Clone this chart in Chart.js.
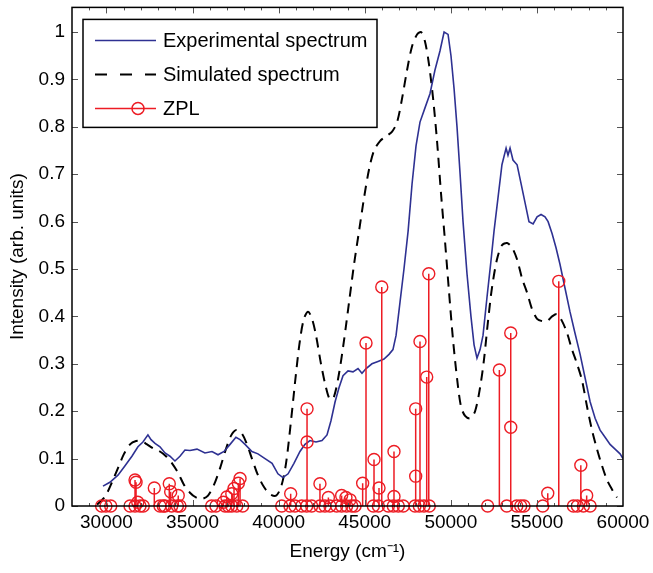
<!DOCTYPE html>
<html>
<head>
<meta charset="utf-8">
<script src="https://cdn.jsdelivr.net/npm/chart.js@4.4.1/dist/chart.umd.min.js"></script>
<style>
  html, body { margin: 0; padding: 0; background: #fff; }
  #wrap { width: 653px; height: 573px; }
</style>
</head>
<body>
<div id="wrap"><canvas id="spectrum"></canvas></div>
<script>
// experimental spectrum
const expEnergy = [29800, 30200, 30670, 31080, 31480, 31830, 32120, 32410, 32590, 32820, 33110, 33400, 33690, 33980,
    34270, 34560, 34850, 35260, 35720, 36130, 36480, 36830, 37180, 37520, 37760, 38050, 38450, 38800, 39210, 39620,
    39960, 40250, 40550, 40890, 41240, 41530, 41820, 42170, 42520, 42810, 43040, 43280, 43510, 43740, 44030, 44320,
    44610, 44840, 45080, 45420, 45770, 46120, 46410, 46640, 46820, 47050, 47280, 47520, 47750, 47980, 48210, 48500,
    48790, 49080, 49370, 49610, 49840, 50010, 50190, 50360, 50540, 50710, 50940, 51170, 51350, 51520, 51700, 51870,
    52100, 52340, 52510, 52740, 52970, 53210, 53320, 53440, 53610, 53850, 54080, 54310, 54540, 54780, 55010, 55240,
    55470, 55650, 55880, 56110, 56340, 56630, 56920, 57210, 57510, 57800, 58090, 58380, 58670, 58960, 59250, 59540,
    59830, 60000];
const expIntensity = [0.042, 0.05, 0.065, 0.085, 0.105, 0.125, 0.135, 0.15, 0.14, 0.132, 0.125, 0.112, 0.105, 0.095,
    0.105, 0.118, 0.117, 0.12, 0.112, 0.115, 0.108, 0.115, 0.13, 0.145, 0.14, 0.13, 0.115, 0.11, 0.1, 0.09,
    0.068, 0.06, 0.068, 0.09, 0.115, 0.13, 0.138, 0.135, 0.138, 0.15, 0.18, 0.22, 0.25, 0.275, 0.285, 0.283,
    0.29, 0.28, 0.29, 0.3, 0.305, 0.31, 0.32, 0.33, 0.36, 0.43, 0.5, 0.58, 0.68, 0.76, 0.81, 0.84,
    0.87, 0.92, 0.96, 1.0, 0.995, 0.95, 0.88, 0.8, 0.7, 0.6, 0.49, 0.4, 0.34, 0.312, 0.33, 0.36,
    0.44, 0.52, 0.58, 0.65, 0.72, 0.755, 0.74, 0.755, 0.73, 0.72, 0.68, 0.64, 0.6, 0.595, 0.61, 0.615,
    0.61, 0.6, 0.575, 0.545, 0.51, 0.46, 0.41, 0.365, 0.32, 0.27, 0.22, 0.185, 0.16, 0.145, 0.13, 0.12,
    0.11, 0.1];

// simulated spectrum
const simEnergy = [29450, 29920, 30320, 30670, 31020, 31370, 31720, 32010, 32360, 32700, 33110, 33460, 33810, 34160,
    34500, 34850, 35200, 35550, 35900, 36250, 36600, 36940, 37230, 37520, 37820, 38110, 38450, 38800, 39150, 39500,
    39850, 40140, 40430, 40720, 41010, 41240, 41470, 41710, 41940, 42170, 42460, 42750, 42980, 43210, 43510, 43800,
    44090, 44380, 44670, 44960, 45250, 45540, 45890, 46240, 46590, 46880, 47170, 47460, 47750, 48040, 48270, 48500,
    48740, 48970, 49200, 49430, 49660, 49900, 50130, 50360, 50590, 50830, 51120, 51410, 51700, 51930, 52160, 52390,
    52680, 52970, 53270, 53560, 53850, 54140, 54430, 54720, 55010, 55300, 55590, 55880, 56170, 56460, 56750, 57040,
    57330, 57620, 57910, 58200, 58490, 58780, 59070, 59360, 59650];
const simIntensity = [0.003, 0.02, 0.05, 0.08, 0.11, 0.13, 0.137, 0.137, 0.13, 0.122, 0.115, 0.105, 0.09, 0.07,
    0.045, 0.028, 0.018, 0.015, 0.022, 0.045, 0.08, 0.12, 0.148, 0.16, 0.155, 0.135, 0.1, 0.065, 0.04, 0.025,
    0.022, 0.04, 0.09, 0.18, 0.28, 0.35, 0.395, 0.41, 0.395, 0.36, 0.3, 0.25, 0.225, 0.23, 0.28, 0.35,
    0.43, 0.51, 0.58, 0.65, 0.71, 0.75, 0.77, 0.78, 0.79, 0.81, 0.86, 0.92, 0.97, 0.995, 1.0, 0.98,
    0.93, 0.86, 0.77, 0.66, 0.56, 0.45, 0.35, 0.27, 0.21, 0.19, 0.185, 0.2, 0.25, 0.31, 0.39, 0.46,
    0.52, 0.55, 0.555, 0.545, 0.52, 0.48, 0.45, 0.415, 0.395, 0.39, 0.39, 0.4, 0.405, 0.39, 0.365, 0.33,
    0.3, 0.265, 0.21, 0.16, 0.12, 0.085, 0.055, 0.035, 0.018];

// zero-phonon lines
const zplEnergy = [29720, 29970, 30250, 31370, 31660, 31660, 31720, 31820, 31950, 32140, 32780, 33110, 33300, 33400,
    33650, 33730, 33790, 34120, 34170, 34270, 36110, 36360, 36790, 36890, 36990, 37080, 37280, 37280, 37410, 37570,
    37660, 37760, 37910, 40180, 40660, 40700, 40950, 41340, 41630, 41650, 41650, 41920, 42400, 42400, 42690, 42890,
    42980, 43370, 43660, 43660, 43910, 43950, 44150, 44250, 44440, 44880, 45075, 45500, 45540, 45790, 45830, 45990,
    46370, 46660, 46700, 46700, 46950, 47240, 47920, 47960, 47960, 48170, 48210, 48440, 48600, 48720, 48750, 52140,
    52820, 53250, 53480, 53480, 53830, 54060, 54250, 55340, 55630, 56270, 57120, 57350, 57550, 57700, 57890, 58090];
const zplIntensity = [0, 0, 0, 0, 0.055, 0, 0.05, 0.008, 0, 0, 0.038, 0, 0, 0,
    0.047, 0.03, 0, 0, 0.022, 0, 0, 0, 0.008, 0, 0.019, 0, 0.026, 0, 0.037, 0,
    0.048, 0.058, 0, 0, 0, 0.026, 0, 0, 0, 0.205, 0.135, 0, 0.047, 0, 0, 0.018,
    0, 0, 0.022, 0, 0.018, 0, 0.013, 0, 0, 0.048, 0.344, 0, 0.098, 0, 0.038, 0.462,
    0, 0, 0.115, 0.02, 0, 0, 0, 0.205, 0.063, 0, 0.347, 0, 0.272, 0.49, 0, 0,
    0.287, 0, 0.365, 0.166, 0, 0, 0, 0, 0.027, 0.474, 0, 0, 0.086, 0, 0.022, 0];

const xTicks = [30000, 35000, 40000, 45000, 50000, 55000, 60000];

const blue = '#2e3192';
const red = '#ed1c24';

const expPoints = expEnergy.map((e, i) => ({x: e, y: expIntensity[i]}));
const simPoints = simEnergy.map((e, i) => ({x: e, y: simIntensity[i]}));
const zplPoints = zplEnergy.map((e, i) => ({x: e, y: zplIntensity[i]}));
const stemPoints = [];
zplEnergy.forEach((e, i) => {
    stemPoints.push({x: e, y: 0}, {x: e, y: zplIntensity[i]}, {x: e, y: null});
});

Chart.defaults.font.family = "'Liberation Sans', Arial, sans-serif";
Chart.defaults.font.size = 19;
Chart.defaults.color = '#000';

// box round the plot with inward ticks, matlab style
const framePlugin = {
    id: 'frame',
    afterDatasetsDraw(chart) {
        const {ctx, chartArea: a, scales: {x, y}} = chart;
        ctx.save();
        ctx.strokeStyle = '#555';
        ctx.lineWidth = 1;
        ctx.beginPath();
        for (let v = x.min + 1000; v < x.max; v += 1000) {
            const px = Math.round(x.getPixelForValue(v)) + 0.5;
            const len = v % 5000 === 0 ? 6 : 3;
            ctx.moveTo(px, a.bottom);
            ctx.lineTo(px, a.bottom - len);
            ctx.moveTo(px, a.top);
            ctx.lineTo(px, a.top + len);
        }
        y.ticks.forEach((t) => {
            const py = Math.round(y.getPixelForValue(t.value)) + 0.5;
            ctx.moveTo(a.left, py);
            ctx.lineTo(a.left + 6, py);
            ctx.moveTo(a.right, py);
            ctx.lineTo(a.right - 6, py);
        });
        ctx.stroke();
        ctx.strokeStyle = '#000';
        ctx.lineWidth = 1.5;
        ctx.strokeRect(a.left, a.top, a.right - a.left, a.bottom - a.top);
        ctx.restore();
    },
    afterDraw(chart) {
        // legend box in the upper left corner
        const {ctx, chartArea: a} = chart;
        const bx = a.left + 11, by = a.top + 12, bw = 294, bh = 108;
        const rows = [
            {label: 'Experimental spectrum', color: blue, dash: [], marker: false, dy: 21},
            {label: 'Simulated spectrum', color: '#000', dash: [12, 13], marker: false, dy: 55},
            {label: 'ZPL', color: red, dash: [], marker: true, dy: 89}
        ];
        ctx.save();
        ctx.fillStyle = '#fff';
        ctx.fillRect(bx, by, bw, bh);
        ctx.strokeStyle = '#000';
        ctx.lineWidth = 1.5;
        ctx.strokeRect(bx, by, bw, bh);
        ctx.font = "20px 'Liberation Sans', Arial, sans-serif";
        ctx.textBaseline = 'middle';
        rows.forEach((r) => {
            const yy = by + r.dy;
            ctx.strokeStyle = r.color;
            ctx.lineWidth = r.dash.length ? 2 : 1.5;
            ctx.setLineDash(r.dash);
            ctx.beginPath();
            ctx.moveTo(bx + 12, yy);
            ctx.lineTo(bx + 73, yy);
            ctx.stroke();
            ctx.setLineDash([]);
            if (r.marker) {
                ctx.beginPath();
                ctx.arc(bx + 55, yy, 6, 0, Math.PI * 2);
                ctx.stroke();
            }
            ctx.fillStyle = '#000';
            ctx.fillText(r.label, bx + 80, yy + 1);
        });
        ctx.restore();
    }
};

new Chart(document.getElementById('spectrum'), {
    type: 'line',
    data: {
        datasets: [
            {
                label: 'ZPL',
                data: zplPoints,
                showLine: false,
                pointRadius: 6,
                pointHoverRadius: 6,
                pointBorderWidth: 1.4,
                pointBorderColor: red,
                pointBackgroundColor: 'rgba(0,0,0,0)',
                clip: false,
                order: 0
            },
            {
                label: 'stems',
                data: stemPoints,
                borderColor: red,
                borderWidth: 1.5,
                pointRadius: 0,
                spanGaps: false,
                order: 1
            },
            {
                label: 'Experimental spectrum',
                data: expPoints,
                borderColor: blue,
                borderWidth: 1.6,
                pointRadius: 0,
                tension: 0,
                order: 2
            },
            {
                label: 'Simulated spectrum',
                data: simPoints,
                borderColor: '#000',
                borderWidth: 2,
                borderDash: [10, 7],
                pointRadius: 0,
                tension: 0.3,
                order: 3
            }
        ]
    },
    options: {
        responsive: true,
        maintainAspectRatio: false,
        animation: false,
        layout: {
            padding: {left: 0, right: 30, top: 5, bottom: 0}
        },
        plugins: {
            legend: {display: false},
            tooltip: {enabled: false}
        },
        scales: {
            x: {
                type: 'linear',
                min: 28000,
                max: 60000,
                grid: {display: false, drawTicks: false},
                border: {display: false},
                ticks: {
                    padding: 5,
                    maxRotation: 0,
                    callback: (v) => String(v)
                },
                afterBuildTicks: (scale) => {
                    scale.ticks = xTicks.map((v) => ({value: v}));
                },
                afterFit: (scale) => {
                    scale.height = 67;
                    scale.paddingLeft = 0;
                    scale.paddingRight = 0;
                },
                title: {
                    display: true,
                    text: 'Energy (cm\u207B\u00B9)',
                    padding: {top: 0, bottom: 10}
                }
            },
            y: {
                min: 0,
                max: 1.052,
                grid: {display: false, drawTicks: false},
                border: {display: false},
                ticks: {
                    stepSize: 0.1,
                    padding: 7,
                    callback: (v) => String(Number(v.toFixed(1)))
                },
                afterBuildTicks: (scale) => {
                    scale.ticks = scale.ticks.filter((t) => t.value <= 1.0001);
                },
                afterFit: (scale) => {
                    scale.width = 72;
                    scale.paddingTop = 0;
                    scale.paddingBottom = 0;
                },
                title: {
                    display: true,
                    text: 'Intensity (arb. units)',
                    padding: {top: 6, bottom: 0}
                }
            }
        }
    },
    plugins: [framePlugin]
});
</script>
</body>
</html>
